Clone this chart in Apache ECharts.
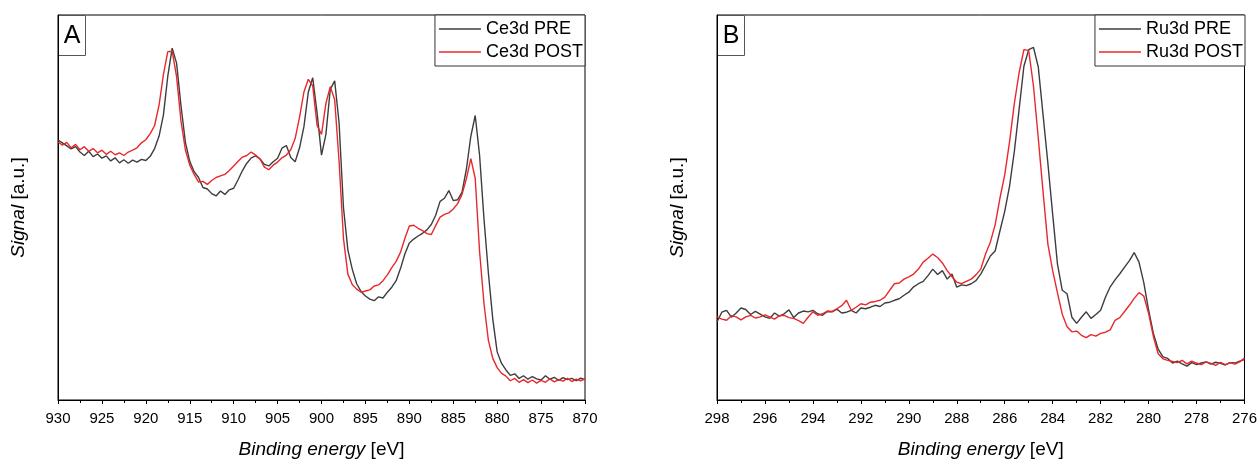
<!DOCTYPE html>
<html>
<head>
<meta charset="utf-8">
<script src="https://cdn.jsdelivr.net/npm/echarts@6/dist/echarts.min.js"></script>
<style>
html,body{margin:0;padding:0;background:#fff;}
#chart{width:1260px;height:464px;}
</style>
</head>
<body>
<div id="chart"></div>
<script>
// ---- Panel A: Ce3d, binding energy 930 -> 870 eV, step 0.5 ----
const ceEnergy = [];
for (let e = 930; e >= 870 - 1e-9; e -= 0.5) ceEnergy.push(+e.toFixed(1));
const cePre = [
  67.5,66.8,66.0,65.2,65.8,64.4,63.5,64.6,63.2,63.9,
  62.8,63.4,62.1,62.9,61.6,62.4,61.5,62.3,61.8,62.5,
  62.2,63.3,65.3,68.5,74.0,84.1,91.4,87.5,76.5,67.0,
  62.0,59.3,57.8,55.2,54.8,53.6,53.0,54.3,53.4,54.6,
  55.0,57.2,59.6,61.5,62.9,63.4,62.6,61.2,60.8,61.9,
  62.8,65.4,66.1,63.0,61.9,65.5,71.0,80.0,83.7,74.5,
  63.6,69.0,80.7,82.9,72.0,50.0,39.0,34.0,30.2,28.2,
  27.0,26.2,25.8,26.8,26.5,28.0,29.3,31.0,34.2,38.0,
  40.8,41.8,42.6,43.3,44.2,45.6,48.0,51.6,52.4,54.4,
  51.8,52.0,54.0,60.0,68.5,73.9,63.5,47.0,33.0,21.0,
  12.5,9.5,7.8,6.4,6.8,5.6,6.3,5.4,6.1,5.5,
  5.2,6.3,5.4,5.9,5.1,5.8,5.3,5.6,5.0,5.7,
  5.3
];
const cePost = [
  67.0,66.2,66.9,65.5,66.4,65.0,65.8,64.6,65.3,64.2,
  64.9,63.8,64.6,63.7,64.2,63.5,64.4,64.9,65.5,66.8,
  67.6,69.2,71.3,76.5,84.5,90.5,90.6,84.0,72.5,65.0,
  61.0,58.6,56.6,56.8,56.0,57.0,57.8,58.2,58.6,59.6,
  60.8,62.0,63.1,63.5,64.4,63.6,62.6,60.5,59.8,61.0,
  61.8,62.9,63.6,65.0,67.9,73.5,80.0,83.3,81.6,71.3,
  69.0,77.0,81.4,78.0,62.0,42.0,32.7,30.0,28.8,28.0,
  28.3,28.6,29.6,29.9,31.0,32.5,34.4,36.0,38.4,42.0,
  45.2,45.4,44.6,44.0,43.2,43.0,45.3,47.5,48.2,48.6,
  49.6,51.0,53.4,57.5,62.7,57.6,38.5,25.0,15.5,10.8,
  8.4,6.9,6.2,5.0,5.6,4.6,5.3,4.5,5.2,4.4,
  5.1,4.6,5.5,4.7,5.3,4.9,5.6,4.8,5.4,5.0,
  5.5
];

// ---- Panel B: Ru3d, binding energy 298 -> 276 eV, step 0.2 ----
const ruEnergy = [];
for (let i = 0; i <= 110; i++) ruEnergy.push(+(298 - i * 0.2).toFixed(1));
const ruPre = [
  20.3,22.8,23.3,21.5,22.6,23.9,23.5,22.2,23.0,22.3,
  21.6,21.2,22.6,21.8,22.4,23.4,21.4,22.6,23.1,22.9,
  23.3,22.4,22.0,23.0,22.9,23.6,22.6,22.8,23.3,22.6,
  23.9,23.7,24.1,24.6,24.3,25.2,25.4,25.9,26.3,27.2,
  28.0,29.4,30.2,30.8,32.3,34.0,32.6,33.6,31.4,32.7,
  29.3,29.9,29.7,30.2,31.0,32.7,35.0,37.4,38.7,43.9,
  49.0,55.5,64.5,75.5,86.7,91.0,91.6,86.5,74.0,61.5,
  48.2,35.3,28.5,27.6,21.5,19.9,21.5,22.9,21.2,22.2,
  23.3,26.7,29.4,31.2,32.8,34.5,36.2,38.3,35.8,30.5,
  23.4,17.3,13.2,11.2,10.8,9.6,10.1,9.4,8.8,9.7,
  9.2,9.6,9.9,9.3,9.8,9.5,9.1,9.7,9.6,10.1,
  10.5
];
const ruPost = [
  21.6,21.0,20.7,21.9,21.6,20.8,21.6,22.0,21.3,21.6,
  22.1,21.6,21.0,21.9,22.0,21.4,21.2,20.6,19.9,21.5,
  22.9,22.0,22.4,23.1,23.0,23.7,24.5,25.9,23.3,24.1,
  25.0,24.7,25.4,25.6,25.9,26.7,28.5,30.2,30.4,31.4,
  32.0,32.7,34.0,35.8,36.8,37.9,37.0,35.6,33.6,32.0,
  30.6,30.2,30.8,31.4,32.5,34.0,37.9,41.0,45.5,52.4,
  58.5,67.0,77.0,85.0,91.0,90.8,81.5,68.0,54.0,40.5,
  33.6,27.8,22.3,19.0,17.7,17.9,16.8,16.2,17.0,16.6,
  17.3,17.6,18.2,20.7,21.4,23.0,24.6,26.4,27.9,27.0,
  22.5,16.5,12.0,10.7,10.3,10.0,9.7,10.3,9.4,10.1,
  9.6,9.2,9.9,9.5,9.0,9.8,9.2,9.7,9.3,9.9,
  10.9
];

const seriesNames = ['Ce3d PRE', 'Ce3d POST', 'Ru3d PRE', 'Ru3d POST'];
const panelLabels = ['A', 'B'];

const zip = (xs, ys) => xs.map((x, i) => [x, ys[i]]);

const PRE_COLOR = '#3d3d3d';
const POST_COLOR = '#e8282b';
const FONT = 'Liberation Sans, Arial, sans-serif';

function xAxisCfg(gridIndex, min, max, interval) {
  return {
    type: 'value', gridIndex, min, max, interval, inverse: true,
    name: '{i|Binding energy} [eV]', nameLocation: 'middle', nameGap: 40,
    nameTextStyle: { fontFamily: FONT, fontSize: 19, color: '#000',
      rich: { i: { fontFamily: FONT, fontSize: 19, fontStyle: 'italic', color: '#000' } } },
    axisLine: { show: true, onZero: false, lineStyle: { color: '#000', width: 1 } },
    axisTick: { show: true, inside: false, length: 4, lineStyle: { color: '#000' } },
    minorTick: { show: true, splitNumber: 2, length: 3, lineStyle: { color: '#000' } },
    axisLabel: { fontFamily: FONT, fontSize: 15, color: '#000', margin: 11 },
    splitLine: { show: false }
  };
}
function yAxisCfg(gridIndex) {
  return {
    type: 'value', gridIndex, min: 0, max: 100,
    name: '{i|Signal} [a.u.]', nameLocation: 'middle', nameGap: 30,
    nameTextStyle: { fontFamily: FONT, fontSize: 19, color: '#000',
      rich: { i: { fontFamily: FONT, fontSize: 19, fontStyle: 'italic', color: '#000' } } },
    axisLine: { show: true, lineStyle: { color: '#000', width: 1 } },
    axisTick: { show: false }, axisLabel: { show: false }, splitLine: { show: false }
  };
}
function lineSeries(name, xi, data, color) {
  return { name, type: 'line', xAxisIndex: xi, yAxisIndex: xi, data, showSymbol: false,
    symbol: 'none', lineStyle: { color, width: 1.4 }, itemStyle: { color }, animation: false };
}
function legendCfg(names, right) {
  return {
    data: names, orient: 'vertical', right, top: 15, itemGap: 5,
    icon: 'rect', itemWidth: 42, itemHeight: 1.5,
    backgroundColor: '#fff', borderColor: '#333', borderWidth: 1,
    padding: [5, 2, 5, 4],
    textStyle: { fontFamily: FONT, fontSize: 18, color: '#000', padding: [0, 0, 0, 0] }
  };
}
function labelBox(left, text) {
  return {
    type: 'group', left, top: 15, children: [
      { type: 'rect', shape: { x: 0, y: 0, width: 27, height: 40 },
        style: { fill: '#fff', stroke: '#555', lineWidth: 1 } },
      { type: 'text', x: 13.5, y: 21, style: { text, fontFamily: FONT, fontSize: 25,
        fill: '#000', align: 'center', verticalAlign: 'middle' } }
    ]
  };
}

const chart = echarts.init(document.getElementById('chart'), null, { renderer: 'canvas' });
chart.setOption({
  backgroundColor: '#fff',
  animation: false,
  grid: [
    { left: 58, right: 675, top: 15, bottom: 60, show: true, borderColor: '#000', borderWidth: 1 },
    { left: 717, right: 15, top: 15, bottom: 60, show: true, borderColor: '#000', borderWidth: 1 }
  ],
  xAxis: [xAxisCfg(0, 870, 930, 5), xAxisCfg(1, 276, 298, 2)],
  yAxis: [yAxisCfg(0), yAxisCfg(1)],
  legend: [legendCfg([seriesNames[0], seriesNames[1]], 675), legendCfg([seriesNames[2], seriesNames[3]], 15)],
  series: [
    lineSeries(seriesNames[0], 0, zip(ceEnergy, cePre), PRE_COLOR),
    lineSeries(seriesNames[1], 0, zip(ceEnergy, cePost), POST_COLOR),
    lineSeries(seriesNames[2], 1, zip(ruEnergy, ruPre), PRE_COLOR),
    lineSeries(seriesNames[3], 1, zip(ruEnergy, ruPost), POST_COLOR)
  ],
  graphic: [labelBox(58, panelLabels[0]), labelBox(717, panelLabels[1])]
});
</script>
</body>
</html>
